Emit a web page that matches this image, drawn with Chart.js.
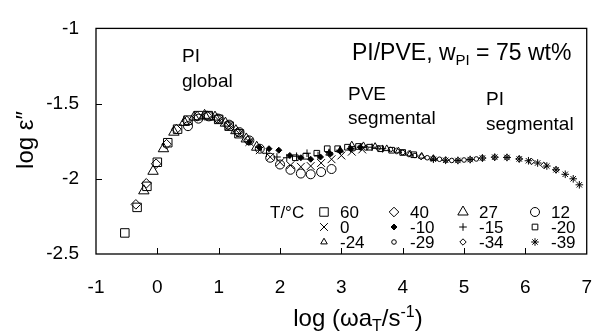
<!DOCTYPE html>
<html>
<head>
<meta charset="utf-8">
<script src="https://cdn.jsdelivr.net/npm/chart.js@4/dist/chart.umd.min.js"></script>
<style>
  html, body { margin: 0; padding: 0; background: #fff; }
  #wrap { width: 614px; height: 336px; }
</style>
</head>
<body>
<div id="wrap"><canvas id="c"></canvas></div>
<script>
const FONT = '"Liberation Sans", Arial, Helvetica, sans-serif';

// temperatures (legend order, 4 per row)
const temps = ['60', '40', '27', '12', '0', '-10', '-15', '-20', '-24', '-29', '-34', '-39'];
const xTicks = [-1, 0, 1, 2, 3, 4, 5, 6, 7];
const yTicks = [-2.5, -2, -1.5, -1];

// log(omega aT) and log eps'', one pair per temperature
const x60 = [-0.53, -0.33, -0.17, 0.0, 0.17, 0.33, 0.5, 0.67, 0.83, 1.0, 1.17, 1.33];
const y60 = [-2.36, -2.19, -2.05, -1.89, -1.76, -1.67, -1.61, -1.58, -1.58, -1.605, -1.65, -1.70];
const x40 = [-0.35, -0.18, -0.02, 0.15, 0.31, 0.48, 0.65, 0.81, 0.98, 1.15, 1.31, 1.48];
const y40 = [-2.17, -2.03, -1.90, -1.77, -1.67, -1.615, -1.585, -1.58, -1.60, -1.645, -1.69, -1.745];
const x27 = [-0.22, -0.07, 0.1, 0.27, 0.44, 0.6, 0.77, 0.94, 1.11, 1.28, 1.45, 1.62];
const y27 = [-2.08, -1.95, -1.80, -1.69, -1.625, -1.59, -1.578, -1.59, -1.63, -1.68, -1.735, -1.79];
const x12 = [0.5, 0.67, 0.84, 1.0, 1.17, 1.34, 1.5, 1.67, 1.84, 2.0, 2.17, 2.34, 2.5, 2.67, 2.84];
const y12 = [-1.65, -1.60, -1.585, -1.60, -1.64, -1.69, -1.745, -1.80, -1.86, -1.905, -1.94, -1.965, -1.97, -1.955, -1.935];
const x0 = [1.0, 1.17, 1.34, 1.5, 1.67, 1.84, 2.0, 2.17, 2.34, 2.5, 2.67, 2.84, 3.0, 3.17, 3.34];
const y0 = [-1.61, -1.65, -1.70, -1.755, -1.81, -1.855, -1.89, -1.91, -1.92, -1.915, -1.895, -1.87, -1.845, -1.82, -1.805];
const xm10 = [1.5, 1.66, 1.82, 1.98, 2.16, 2.34, 2.5, 2.66, 2.82, 2.98, 3.15, 3.31];
const ym10 = [-1.755, -1.79, -1.80, -1.81, -1.845, -1.86, -1.87, -1.855, -1.835, -1.815, -1.80, -1.79];
const xm15 = [1.78, 1.95, 2.11, 2.27, 2.44, 2.62, 2.8, 2.97, 3.15, 3.32, 3.5, 3.67];
const ym15 = [-1.83, -1.855, -1.86, -1.85, -1.83, -1.845, -1.825, -1.81, -1.80, -1.79, -1.79, -1.80];
const xm20 = [2.25, 2.42, 2.6, 2.77, 2.94, 3.1, 3.28, 3.46, 3.64, 3.82, 4.0, 4.18];
const ym20 = [-1.86, -1.85, -1.83, -1.80, -1.80, -1.79, -1.785, -1.79, -1.80, -1.81, -1.825, -1.84];
const xm24 = [2.8, 2.98, 3.17, 3.36, 3.55, 3.74, 3.93, 4.12, 4.31, 4.5];
const ym24 = [-1.83, -1.81, -1.775, -1.78, -1.785, -1.80, -1.815, -1.835, -1.85, -1.865];
const xm29 = [3.2, 3.4, 3.6, 3.8, 4.0, 4.2, 4.4, 4.6, 4.8, 5.0, 5.2];
const ym29 = [-1.80, -1.795, -1.795, -1.805, -1.825, -1.845, -1.86, -1.87, -1.878, -1.875, -1.868];
const xm34 = [3.9, 4.1, 4.3, 4.5, 4.7, 4.9, 5.1, 5.3, 5.5, 5.7, 5.9, 6.1, 6.3, 6.5];
const ym34 = [-1.815, -1.835, -1.853, -1.865, -1.875, -1.878, -1.872, -1.862, -1.857, -1.858, -1.868, -1.885, -1.91, -1.94];
const xm39 = [4.5, 4.7, 4.9, 5.1, 5.3, 5.5, 5.7, 5.9, 6.05, 6.2, 6.35, 6.5, 6.65, 6.78, 6.88];
const ym39 = [-1.87, -1.877, -1.878, -1.872, -1.862, -1.856, -1.858, -1.868, -1.88, -1.895, -1.915, -1.94, -1.97, -2.0, -2.04];

const seriesX = [x60, x40, x27, x12, x0, xm10, xm15, xm20, xm24, xm29, xm34, xm39];
const seriesY = [y60, y40, y27, y12, y0, ym10, ym15, ym20, ym24, ym29, ym34, ym39];

// marker per temperature
const markers = [
  { style: 'rect', r: 6, fill: false },
  { style: 'rectRot', r: 4.8, fill: false },
  { style: 'triangle', r: 6, fill: false },
  { style: 'circle', r: 4.5, fill: false },
  { style: 'crossRot', r: 5.5, fill: false },
  { style: 'rectRot', r: 3, fill: true },
  { style: 'cross', r: 3.8, fill: false },
  { style: 'rect', r: 4, fill: false },
  { style: 'triangle', r: 3.8, fill: false },
  { style: 'circle', r: 2.3, fill: false },
  { style: 'rectRot', r: 3.2, fill: false },
  { style: 'star', r: 3.8, fill: false }
];

const datasets = temps.map((t, i) => ({
  label: t,
  data: seriesX[i].map((x, j) => ({ x: x, y: seriesY[i][j] })),
  showLine: false,
  pointStyle: markers[i].style,
  pointRadius: markers[i].r,
  pointBorderWidth: 1,
  pointBorderColor: '#000',
  pointBackgroundColor: markers[i].fill ? '#000' : 'rgba(0,0,0,0)'
}));

// draws text pieces with sub/superscripts
function drawRich(ctx, x, y, parts, align) {
  let total = 0;
  parts.forEach(p => {
    ctx.font = p.f + 'px ' + FONT;
    p.w = ctx.measureText(p.t).width;
    total += p.w;
  });
  let cx = align === 'center' ? x - total / 2 : x;
  ctx.textAlign = 'left';
  ctx.textBaseline = 'alphabetic';
  parts.forEach(p => {
    ctx.font = p.f + 'px ' + FONT;
    ctx.fillText(p.t, cx, y + (p.dy || 0));
    cx += p.w;
  });
}

function marker(ctx, m, x, y) {
  ctx.save();
  ctx.strokeStyle = '#000';
  ctx.fillStyle = m.fill ? '#000' : 'rgba(0,0,0,0)';
  ctx.lineWidth = 1;
  Chart.helpers.drawPoint(ctx, { pointStyle: m.style, radius: m.r, borderWidth: 1, rotation: 0 }, x, y);
  ctx.restore();
}

const decor = {
  id: 'decor',
  afterDraw(chart) {
    const ctx = chart.ctx;
    const a = chart.chartArea;
    const sx = chart.scales.x, sy = chart.scales.y;
    ctx.save();
    ctx.strokeStyle = '#000';
    ctx.lineWidth = 1.3;
    ctx.strokeRect(a.left, a.top, a.right - a.left, a.bottom - a.top);

    // inward ticks
    ctx.lineWidth = 1;
    ctx.beginPath();
    xTicks.slice(1, -1).forEach(v => {
      const px = Math.round(sx.getPixelForValue(v)) + 0.5;
      ctx.moveTo(px, a.bottom);
      ctx.lineTo(px, a.bottom - 6);
    });
    yTicks.slice(1, -1).forEach(v => {
      const py = Math.round(sy.getPixelForValue(v)) + 0.5;
      ctx.moveTo(a.left, py);
      ctx.lineTo(a.left + 6, py);
    });
    ctx.stroke();

    ctx.fillStyle = '#000';
    // annotations
    drawRich(ctx, 182, 62, [{ t: 'PI', f: 19 }]);
    drawRich(ctx, 182, 87, [{ t: 'global', f: 19 }]);
    drawRich(ctx, 348, 100, [{ t: 'PVE', f: 19 }]);
    drawRich(ctx, 348, 124, [{ t: 'segmental', f: 19 }]);
    drawRich(ctx, 486, 105, [{ t: 'PI', f: 19 }]);
    drawRich(ctx, 486, 130, [{ t: 'segmental', f: 19 }]);
    drawRich(ctx, 352, 60, [
      { t: 'PI/PVE, w', f: 23 },
      { t: 'PI', f: 15, dy: 5 },
      { t: ' = 75 wt%', f: 23 }
    ]);

    // legend
    const colX = [324, 394, 463, 535];
    const rowY = [212, 227, 242];
    drawRich(ctx, 270, rowY[0] + 6, [{ t: 'T/°C', f: 17 }]);
    temps.forEach((t, i) => {
      const mx = colX[i % 4], my = rowY[Math.floor(i / 4)];
      marker(ctx, markers[i], mx, my);
      drawRich(ctx, mx + 16, my + 6, [{ t: t, f: 17 }]);
    });

    // axis titles
    drawRich(ctx, 358, 326, [
      { t: 'log (ωa', f: 24 },
      { t: 'T', f: 16, dy: 5 },
      { t: '/s', f: 24 },
      { t: '-1', f: 16, dy: -9 },
      { t: ')', f: 24 }
    ], 'center');
    ctx.save();
    ctx.translate(33, 140);
    ctx.rotate(-Math.PI / 2);
    drawRich(ctx, 0, 0, [{ t: 'log ε″', f: 24 }], 'center');
    ctx.restore();
    ctx.restore();
  }
};

new Chart(document.getElementById('c'), {
  type: 'scatter',
  data: { datasets: datasets },
  options: {
    responsive: true,
    maintainAspectRatio: false,
    animation: false,
    events: [],
    layout: { padding: { top: 20, right: 7, left: 0, bottom: 0 } },
    plugins: { legend: { display: false }, tooltip: { enabled: false } },
    scales: {
      x: {
        type: 'linear', min: -1, max: 7,
        afterBuildTicks: s => { s.ticks = xTicks.map(v => ({ value: v })); },
        afterFit: s => { s.height = 82; },
        grid: { display: false, drawTicks: false },
        border: { display: false },
        ticks: { color: '#000', font: { family: FONT, size: 19 }, padding: 22, maxRotation: 0, autoSkip: false, callback: v => String(v) }
      },
      y: {
        type: 'linear', min: -2.5, max: -1,
        afterBuildTicks: s => { s.ticks = yTicks.map(v => ({ value: v })); },
        afterFit: s => { s.width = 96; },
        grid: { display: false, drawTicks: false },
        border: { display: false },
        ticks: { color: '#000', font: { family: FONT, size: 19 }, padding: 17, autoSkip: false, callback: v => String(v) }
      }
    }
  },
  plugins: [decor]
});
</script>
</body>
</html>
